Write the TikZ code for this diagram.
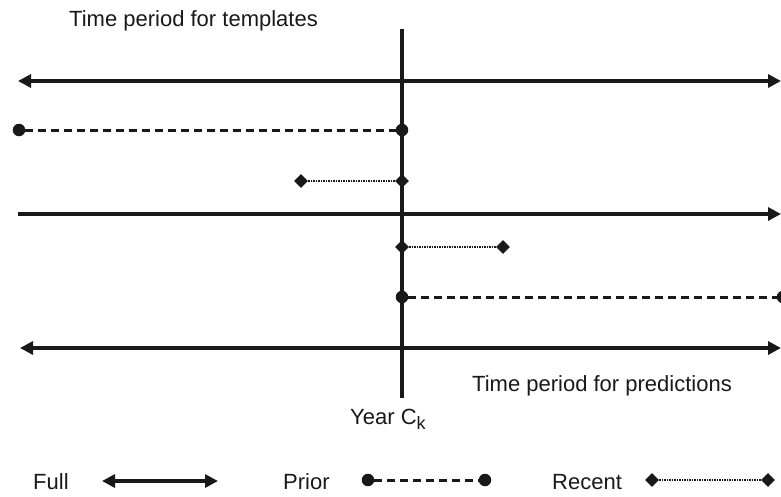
\documentclass[tikz,border=0pt]{standalone}
\usepackage{fontspec}
\setmainfont{Liberation Sans}
\usetikzlibrary{arrows.meta,shapes.geometric}
\begin{document}
\begin{tikzpicture}[x=1pt,y=-1pt,
  txt/.style={inner sep=0pt,anchor=base west,font=\fontsize{22}{24}\selectfont,text=black!90},
  axis/.style={line width=4.2pt,draw=black!90},
  fullline/.style={line width=3.6pt,draw=black!90},
  tip/.style={-{Triangle[length=13pt,width=13pt]}},
  tips/.style={{Triangle[length=13pt,width=13pt]}-{Triangle[length=13pt,width=13pt]}},
  priorline/.style={line width=3pt,draw=black!90,dash pattern=on 8pt off 5pt},
  recentline/.style={line width=2.4pt,draw=black!90,dash pattern=on 1.4pt off 1.1pt},
  dot/.style={circle,fill=black!90,inner sep=0pt,minimum size=12.5pt},
  dia/.style={diamond,fill=black!90,inner sep=0pt,minimum size=14pt}
]
\useasboundingbox (0,0) rectangle (781,496);
% vertical year line
\coordinate (vtop) at (402,29);
\coordinate (vbot) at (402,398);
% full top
\coordinate (f1a) at (18,81);
\coordinate (f1b) at (781,81);
\draw[fullline,tips] (f1a) -- (f1b);
% prior top
\node[dot] (p1a) at (19,130) {};
\node[dot] (p1b) at (402,130) {};
\draw[priorline] (p1a) -- (p1b);
% recent top
\node[dia] (r1a) at (301,181) {};
\node[dia] (r1b) at (402,181) {};
\draw[recentline] (r1a) -- (r1b);
% middle axis
\coordinate (ma) at (18,214);
\coordinate (mb) at (781,214);
\draw[axis,tip] (ma) -- (mb);
% recent bottom
\node[dia] (r2a) at (402,247) {};
\node[dia] (r2b) at (503,247) {};
\draw[recentline] (r2a) -- (r2b);
% prior bottom
\node[dot] (p2a) at (402,297) {};
\node[dot] (p2b) at (783,297) {};
\draw[priorline] (p2a) -- (p2b);
% full bottom
\coordinate (f2a) at (20,348);
\coordinate (f2b) at (781,348);
\draw[fullline,tips] (f2a) -- (f2b);
% vertical
\draw[line width=4.5pt,draw=black!90] (vtop) -- (vbot);
% texts
\node[txt] (ttemp) at (69,26) {Time period for templates};
\node[txt] (tpred) at (472,391) {Time period for predictions};
\node[txt] (tyear) at (350,424) {Year C\raisebox{-5pt}{\fontsize{18}{20}\selectfont k}};
% legend
\node[txt] (lfull) at (33,489) {Full};
\coordinate (lfa) at (102,481);
\coordinate (lfb) at (218,481);
\draw[line width=3.2pt,draw=black!90,tips] (lfa) -- (lfb);
\node[txt] (lprior) at (283,489) {Prior};
\node[dot] (lpa) at (368,480) {};
\node[dot] (lpb) at (485,480) {};
\draw[priorline] (lpa) -- (lpb);
\node[txt] (lrecent) at (552,489) {Recent};
\node[dia] (lra) at (652,480) {};
\node[dia] (lrb) at (768,480) {};
\draw[recentline] (lra) -- (lrb);
\end{tikzpicture}
\end{document}
